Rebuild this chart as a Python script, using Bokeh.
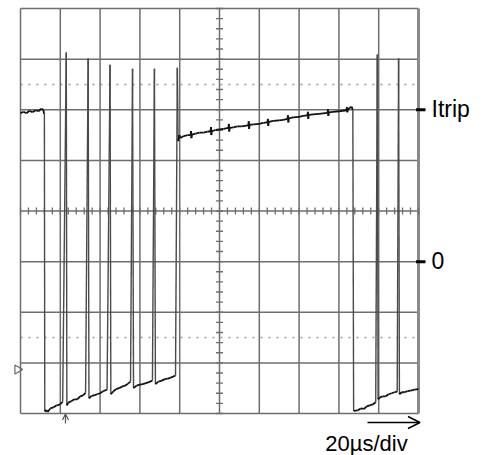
from bokeh.plotting import figure
from bokeh.models import Range1d, Arrow, OpenHead
from bokeh.embed import file_html
from bokeh.resources import INLINE
from bokeh.core.properties import value

# ---- data (time in µs, signal in vertical divisions relative to the 0 level) ----
US_PER_DIV = 20
N_XDIV = 10
Y_BOTTOM, Y_TOP = -3, 5
DOTTED_LEVELS = [3.5, -1.5]
level_names = ["Itrip", "0"]
level_values = [3.0, 0.0]
time_label = "20µs/div"

trace_t = [0, 1.5, 3, 4.5, 6, 7.5, 9, 10.5, 11.5, 11.8, 12.0,
           12.2, 13.0, 13.6, 15, 16.5, 18, 19.5, 21.2,
           23.0, 23.3, 24.1, 25.5, 27, 28.5, 30, 31.5, 32.7,
           34.0, 34.4, 35.7, 37, 38.5, 40, 41.5, 43.5,
           45.0, 45.4, 46.7, 48, 49.5, 51, 52.5, 54, 55.3,
           56.3, 56.8, 58.3, 60, 61.5, 63, 64.5, 66.3,
           67.3, 67.8, 69.3, 71, 72.5, 74, 75.5, 77.9,
           78.8, 79.2, 79.8, 80.4, 82, 84, 85.5, 85.7, 85.9, 86.1, 88, 90, 92, 94,
           95.5, 95.7, 95.9, 96.1, 98, 100, 102, 104.5, 104.7, 104.9, 105.1, 107, 109, 111,
           114.5, 114.7, 114.9, 115.1, 117, 120, 122, 124.1, 124.3, 124.5, 124.7, 127, 130, 132,
           134.2, 134.4, 134.6, 134.8, 137, 140, 142, 144.2, 144.4, 144.6, 144.8, 147, 150, 152,
           154.3, 154.5, 154.7, 154.9, 157, 160, 162, 163.8, 164.0, 164.2, 164.5, 165.5, 166.3, 167.0,
           167.4, 169.3, 171, 172.5, 174, 175.5, 177, 178.5,
           179.3, 179.7, 180.6, 182, 183.5, 185, 186.5, 188, 189.3,
           190.0, 190.4, 191.5, 193, 194.5, 196, 198, 200]
trace_v = [2.93, 2.96, 2.93, 2.98, 2.95, 2.99, 2.97, 3.02, 3.0, 2.92, 2.94,
           -2.96, -2.93, -2.97, -2.9, -2.88, -2.84, -2.83, -2.77,
           4.13, -2.84, -2.78, -2.76, -2.72, -2.72, -2.66, -2.64, -2.59,
           4.01, -2.7, -2.65, -2.64, -2.62, -2.6, -2.56, -2.53,
           3.89, -2.62, -2.56, -2.52, -2.5, -2.47, -2.45, -2.41, -2.37,
           3.81, -2.5, -2.45, -2.43, -2.42, -2.4, -2.38, -2.35,
           3.81, -2.42, -2.37, -2.35, -2.32, -2.31, -2.29, -2.25,
           3.83, 2.38, 2.5, 2.44, 2.48, 2.5, 2.5, 2.58, 2.44, 2.51, 2.53, 2.55, 2.55, 2.57,
           2.57, 2.66, 2.5, 2.58, 2.6, 2.61, 2.62, 2.64, 2.72, 2.57, 2.64, 2.65, 2.67, 2.67,
           2.69, 2.77, 2.62, 2.7, 2.71, 2.72, 2.74, 2.75, 2.82, 2.68, 2.76, 2.78, 2.79, 2.8,
           2.82, 2.89, 2.75, 2.83, 2.85, 2.86, 2.88, 2.89, 2.96, 2.82, 2.9, 2.91, 2.92, 2.93,
           2.94, 3.01, 2.88, 2.95, 2.96, 2.97, 2.98, 2.99, 3.05, 2.95, 3.0, 3.04, 3.06, 3.0,
           -2.95, -2.94, -2.9, -2.91, -2.86, -2.84, -2.82, -2.78,
           4.09, -2.72, -2.68, -2.66, -2.66, -2.62, -2.6, -2.58, -2.57,
           4.01, -2.62, -2.58, -2.58, -2.56, -2.55, -2.53, -2.52]

# ---- layout ----
W, H = 488, 455
PX_PER_US = 1.99
PX_PER_DIV = 50.625
LEFT_PX = 20
TOP_PX = 8
T_MAX = US_PER_DIV * N_XDIV

x0 = -LEFT_PX / PX_PER_US
y1 = Y_TOP + TOP_PX / PX_PER_DIV
p = figure(width=W, height=H, output_backend="svg", toolbar_location=None,
           x_range=Range1d(x0, x0 + W / PX_PER_US),
           y_range=Range1d(y1 - H / PX_PER_DIV, y1),
           min_border=0, min_border_left=0, min_border_right=0,
           min_border_top=0, min_border_bottom=0)
p.axis.visible = False
p.xgrid.visible = False
p.ygrid.visible = False
p.outline_line_color = None
p.background_fill_color = "white"
p.border_fill_color = "white"

GRID = "#6e6e6e"
# dotted reference levels
for lv in DOTTED_LEVELS:
    p.line([0, T_MAX], [lv, lv], line_color="#9a9a9a", line_width=1.6, line_dash="2 6")

# graticule
vx = [US_PER_DIV * i for i in range(N_XDIV + 1)]
p.segment(x0=vx[:-1], y0=[Y_BOTTOM] * N_XDIV, x1=vx[:-1], y1=[Y_TOP] * N_XDIV,
          line_color=GRID, line_width=1.5)
hy = list(range(Y_BOTTOM, Y_TOP + 1))
p.segment(x0=[0] * len(hy), y0=hy, x1=[T_MAX] * len(hy), y1=hy,
          line_color=GRID, line_width=1.5)
p.segment(x0=[T_MAX], y0=[Y_BOTTOM], x1=[T_MAX], y1=[Y_TOP],
          line_color="#8a8a8a", line_width=3)

# centre cross minor ticks
cx = T_MAX / 2
cy = (Y_BOTTOM + Y_TOP) / 2
half_us = 3.5 / PX_PER_US
half_div = 3.5 / PX_PER_DIV
ty = [Y_BOTTOM + 0.2 * k for k in range(int(round((Y_TOP - Y_BOTTOM) / 0.2)) + 1)]
p.segment(x0=[cx - half_us] * len(ty), y0=ty, x1=[cx + half_us] * len(ty), y1=ty,
          line_color=GRID, line_width=1.3)
tx = [US_PER_DIV * 0.2 * k for k in range(N_XDIV * 5 + 1)]
p.segment(x0=tx, y0=[cy - half_div] * len(tx), x1=tx, y1=[cy + half_div] * len(tx),
          line_color=GRID, line_width=1.3)

# trace: fast edges drawn fainter than the slow ramps, as on the scope screen
fast = [abs(trace_v[i + 1] - trace_v[i]) > 1.0 for i in range(len(trace_t) - 1)]
p.segment(x0=trace_t[:-1], y0=trace_v[:-1], x1=trace_t[1:], y1=trace_v[1:],
          line_color=["#4a4a4a" if f else "#111111" for f in fast],
          line_width=[1.4 if f else 1.8 for f in fast])

# level markers and labels on the right
dash0 = T_MAX - 2.5 / PX_PER_US
dash1 = T_MAX + 7 / PX_PER_US
p.segment(x0=[dash0] * len(level_values), y0=level_values,
          x1=[dash1] * len(level_values), y1=level_values,
          line_color="black", line_width=3)
p.text(x=[T_MAX + 13 / PX_PER_US] * len(level_values),
       y=[lv + 1 / PX_PER_DIV for lv in level_values], text=level_names,
       text_font=value("Liberation Sans"), text_font_size="23px",
       text_baseline="middle", text_align="left", text_color="black")

# time-base arrow and label
ay = Y_BOTTOM - 9 / PX_PER_DIV
p.add_layout(Arrow(x_start=T_MAX - 51 / PX_PER_US, y_start=ay, x_end=T_MAX + 1.5 / PX_PER_US, y_end=ay,
                   line_color="black", line_width=1.5,
                   end=OpenHead(size=12, line_color="black", line_width=1.5)))
p.text(x=[T_MAX - 52 / PX_PER_US], y=[Y_BOTTOM - 30 / PX_PER_DIV], text=[time_label],
       text_font=value("Liberation Sans"), text_font_size="22px",
       text_baseline="middle", text_align="center", text_color="black")

# trigger marker below and ground marker at left
trig_t = 22.6
p.add_layout(Arrow(x_start=trig_t, y_start=Y_BOTTOM - 10 / PX_PER_DIV, x_end=trig_t,
                   y_end=Y_BOTTOM - 0.5 / PX_PER_DIV,
                   line_color="#555555", line_width=1.2,
                   end=OpenHead(size=6, line_color="#555555", line_width=1.2)))
p.scatter(x=[-3 / PX_PER_US], y=[-2.13], marker="triangle", size=9, angle=-1.5708,
          fill_color=None, line_color="#666666", line_width=1.2)

open("out.html", "w").write(file_html(p, INLINE))
